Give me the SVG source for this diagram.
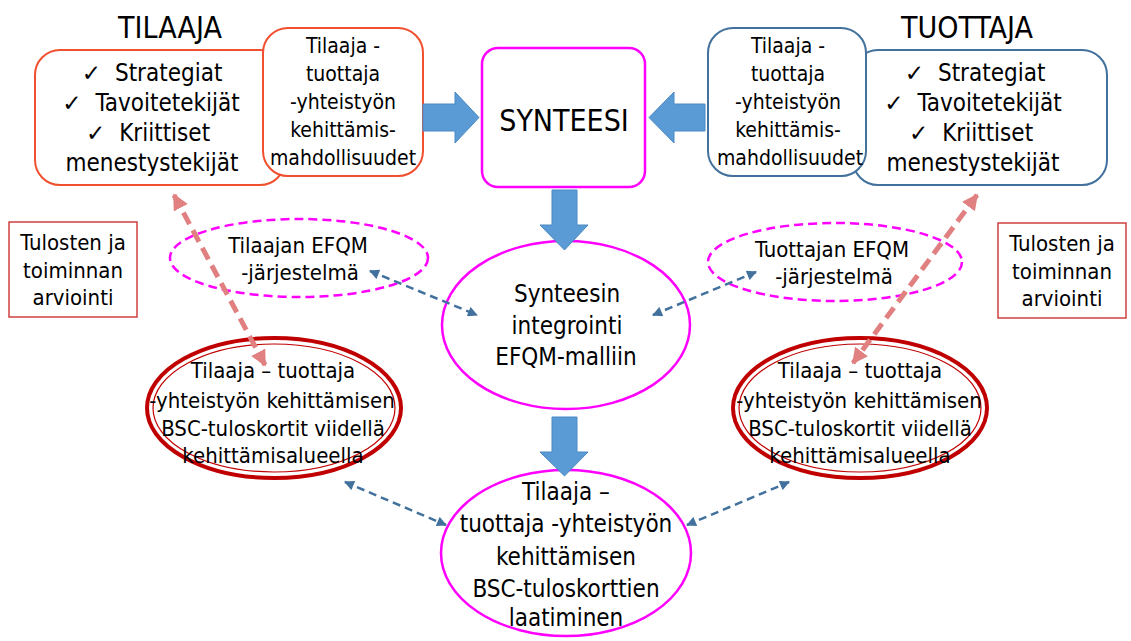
<svg xmlns="http://www.w3.org/2000/svg" width="1131" height="641" viewBox="0 0 1131 641">
  <defs>
    <style>
      text { font-family: "DejaVu Sans Condensed", "DejaVu Sans", "Liberation Sans", sans-serif; fill: #000; text-anchor: middle; }
      .title { font-size: 30px; }
      .big { font-size: 24px; }
      .mid { font-size: 21px; }
      .sm { font-size: 22px; }
      .ck { font-family: "DejaVu Sans", sans-serif; font-size: 23px; }
      .boxR { fill: #fff; stroke: #f05030; stroke-width: 2; }
      .boxB { fill: #fff; stroke: #41719c; stroke-width: 2; }
      .mag { fill: #fff; stroke: #ff00ff; stroke-width: 2.5; }
      .magd { fill: none; stroke: #ff00ff; stroke-width: 2.5; stroke-dasharray: 9 5; }
      .red { fill: #fff; stroke: #c00000; stroke-width: 4; }
      .redi { fill: none; stroke: #c00000; stroke-width: 1.2; }
      .eval { fill: #fff; stroke: #d04040; stroke-width: 1.5; }
      .block { fill: #5b9bd5; stroke: #4a89c4; stroke-width: 1; }
      .pink { stroke: #e08080; stroke-width: 5; stroke-dasharray: 13 7; fill: none; }
      .blue { stroke: #41719c; stroke-width: 2.5; stroke-dasharray: 8 5; fill: none; }
    </style>
    <marker id="headPink" viewBox="0 0 10 10" refX="9" refY="5" markerWidth="16" markerHeight="16" markerUnits="userSpaceOnUse" orient="auto-start-reverse">
      <path d="M0,0 L10,5 L0,10 z" fill="#e08080"/>
    </marker>
    <marker id="headBlue" viewBox="0 0 10 10" refX="9" refY="5" markerWidth="11" markerHeight="10" markerUnits="userSpaceOnUse" orient="auto-start-reverse">
      <path d="M0,0 L10,5 L0,10 z" fill="#41719c"/>
    </marker>
  </defs>

  <rect width="1131" height="641" fill="#fff"/>

  <!-- Client side -->
  <g id="tilaaja">
    <text class="title" x="170" y="38">TILAAJA</text>
    <rect class="boxR" x="35" y="50" width="250" height="135" rx="25"/>
    <text class="big" x="152" y="81"><tspan class="ck">✓</tspan><tspan dx="14">Strategiat</tspan></text>
    <text class="big" x="151" y="111"><tspan class="ck">✓</tspan><tspan dx="14">Tavoitetekijät</tspan></text>
    <text class="big" x="148" y="141"><tspan class="ck">✓</tspan><tspan dx="14">Kriittiset</tspan></text>
    <text class="big" x="152" y="171">menestystekijät</text>
  </g>
  <g id="tilaaja-mahdollisuudet">
    <rect class="boxR" x="263" y="28" width="160" height="148" rx="25"/>
    <text class="mid" x="343" y="53">Tilaaja -</text>
    <text class="mid" x="343" y="81">tuottaja</text>
    <text class="mid" x="343" y="109">-yhteistyön</text>
    <text class="mid" x="343" y="137">kehittämis-</text>
    <text class="mid" x="343" y="165">mahdollisuudet</text>
  </g>

  <!-- Provider side -->
  <g id="tuottaja">
    <text class="title" x="967" y="38">TUOTTAJA</text>
    <rect class="boxB" x="853" y="50" width="254" height="135" rx="25"/>
    <text class="big" x="975" y="81"><tspan class="ck">✓</tspan><tspan dx="14">Strategiat</tspan></text>
    <text class="big" x="973" y="111"><tspan class="ck">✓</tspan><tspan dx="14">Tavoitetekijät</tspan></text>
    <text class="big" x="971" y="141"><tspan class="ck">✓</tspan><tspan dx="14">Kriittiset</tspan></text>
    <text class="big" x="973" y="171">menestystekijät</text>
  </g>
  <g id="tuottaja-mahdollisuudet">
    <rect class="boxB" x="708" y="28" width="158" height="148" rx="25"/>
    <text class="mid" x="788" y="53">Tilaaja -</text>
    <text class="mid" x="788" y="81">tuottaja</text>
    <text class="mid" x="788" y="109">-yhteistyön</text>
    <text class="mid" x="788" y="137">kehittämis-</text>
    <text class="mid" x="790" y="165">mahdollisuudet</text>
  </g>

  <!-- Synthesis -->
  <g id="synteesi">
    <rect class="mag" x="482" y="48" width="163" height="139" rx="16"/>
    <text x="564" y="131" style="font-size:30px">SYNTEESI</text>
  </g>

  <g id="integrointi">
    <ellipse class="mag" cx="566" cy="325" rx="124" ry="84"/>
    <text class="big" x="567" y="302">Synteesin</text>
    <text class="big" x="567" y="334">integrointi</text>
    <text class="big" x="566" y="365">EFQM-malliin</text>
  </g>

  <g id="laatiminen">
    <ellipse class="mag" cx="566" cy="553" rx="125" ry="83"/>
    <text class="big" x="566" y="500">Tilaaja –</text>
    <text class="big" x="566" y="532">tuottaja -yhteistyön</text>
    <text class="big" x="566" y="565">kehittämisen</text>
    <text class="big" x="566" y="597">BSC-tuloskorttien</text>
    <text class="big" x="566" y="626">laatiminen</text>
  </g>

  <g id="tilaajan-efqm">
    <ellipse class="magd" cx="299" cy="258" rx="129" ry="39"/>
    <text class="sm" x="298" y="253">Tilaajan EFQM</text>
    <text class="sm" x="300" y="280">-järjestelmä</text>
  </g>
  <g id="tuottajan-efqm">
    <ellipse class="magd" cx="835" cy="262" rx="127" ry="39"/>
    <text class="sm" x="832" y="257">Tuottajan EFQM</text>
    <text class="sm" x="834" y="284">-järjestelmä</text>
  </g>

  <g id="bsc-vasen">
    <ellipse class="red" cx="274" cy="408" rx="127" ry="70"/>
    <ellipse class="redi" cx="274" cy="408" rx="121" ry="64"/>
    <text class="sm" x="273" y="378">Tilaaja – tuottaja</text>
    <text class="sm" x="272" y="408">-yhteistyön kehittämisen</text>
    <text class="sm" x="273" y="436">BSC-tuloskortit viidellä</text>
    <text class="sm" x="273" y="463">kehittämisalueella</text>
  </g>
  <g id="bsc-oikea">
    <ellipse class="red" cx="860" cy="408" rx="127" ry="70"/>
    <ellipse class="redi" cx="860" cy="408" rx="121" ry="64"/>
    <text class="sm" x="860" y="378">Tilaaja – tuottaja</text>
    <text class="sm" x="859" y="408">-yhteistyön kehittämisen</text>
    <text class="sm" x="860" y="436">BSC-tuloskortit viidellä</text>
    <text class="sm" x="860" y="463">kehittämisalueella</text>
  </g>

  <g id="arviointi-vasen">
    <rect class="eval" x="9" y="222" width="128" height="95"/>
    <text class="sm" x="73" y="250">Tulosten ja</text>
    <text class="sm" x="73" y="278">toiminnan</text>
    <text class="sm" x="73" y="305">arviointi</text>
  </g>
  <g id="arviointi-oikea">
    <rect class="eval" x="998" y="223" width="128" height="95"/>
    <text class="sm" x="1062" y="251">Tulosten ja</text>
    <text class="sm" x="1062" y="279">toiminnan</text>
    <text class="sm" x="1062" y="306">arviointi</text>
  </g>

  <!-- Connectors -->
  <g id="connectors">
    <!-- block arrows -->
    <polygon class="block" points="423,104 455,104 455,92 479,117.5 455,143 455,131 423,131"/>
    <polygon class="block" points="705,104 674,104 674,92 649,117.5 674,143 674,131 705,131"/>
    <polygon class="block" points="552,190 577,190 577,225 588,225 564.5,250 540,225 552,225"/>
    <polygon class="block" points="552,417 577,417 577,452 588,452 564.5,476 540,452 552,452"/>
    <!-- evaluation loops -->
    <line class="pink" x1="174" y1="195" x2="265" y2="365" marker-start="url(#headPink)" marker-end="url(#headPink)"/>
    <line class="pink" x1="977" y1="195" x2="853" y2="363" marker-start="url(#headPink)" marker-end="url(#headPink)"/>
    <!-- integration links -->
    <line class="blue" x1="370" y1="271" x2="477" y2="315" marker-start="url(#headBlue)" marker-end="url(#headBlue)"/>
    <line class="blue" x1="653" y1="315" x2="756" y2="272" marker-start="url(#headBlue)" marker-end="url(#headBlue)"/>
    <line class="blue" x1="345" y1="482" x2="446" y2="525" marker-start="url(#headBlue)" marker-end="url(#headBlue)"/>
    <line class="blue" x1="687" y1="525" x2="789" y2="482" marker-start="url(#headBlue)" marker-end="url(#headBlue)"/>
  </g>
</svg>
